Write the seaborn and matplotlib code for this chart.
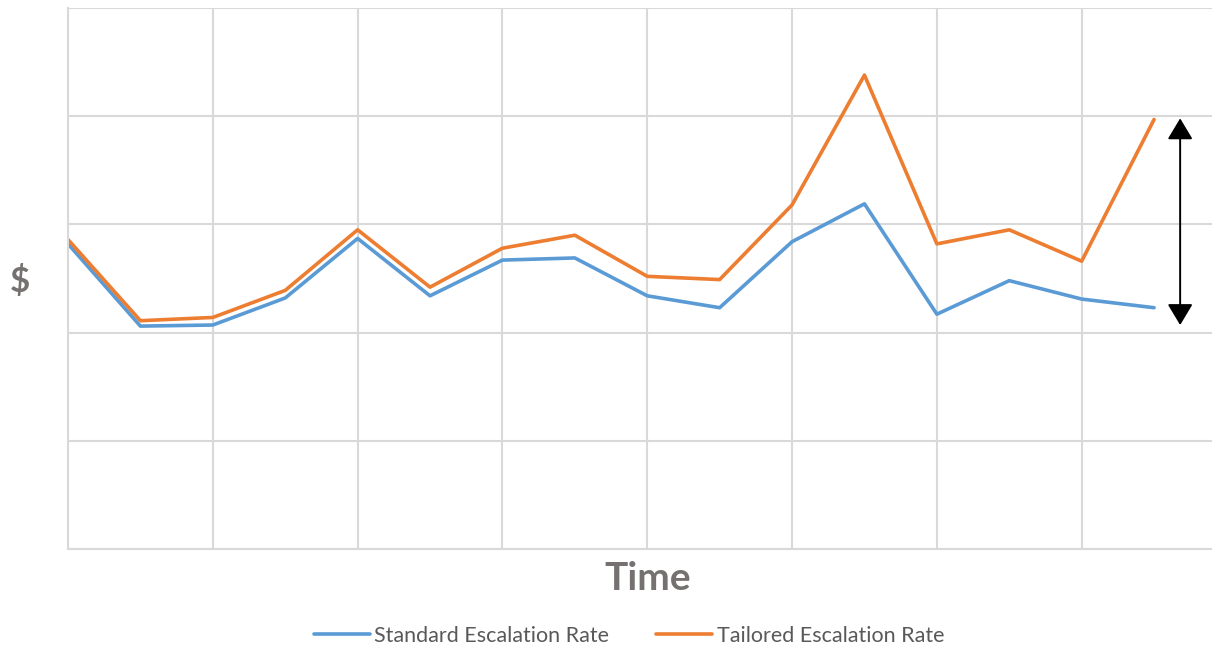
import pandas as pd
import matplotlib
matplotlib.use("Agg")
import matplotlib.pyplot as plt
import seaborn as sns

# values (arbitrary $ units, axis 0..5)
periods = list(range(16))
standard_rate = [2.82, 2.06, 2.07, 2.32, 2.87, 2.34, 2.67, 2.69, 2.34, 2.23,
                 2.84, 3.19, 2.17, 2.48, 2.31, 2.23]
tailored_rate = [2.86, 2.11, 2.14, 2.39, 2.95, 2.42, 2.78, 2.90, 2.52, 2.49,
                 3.18, 4.38, 2.82, 2.95, 2.66, 3.97]
series_names = ["Standard Escalation Rate", "Tailored Escalation Rate"]

df = pd.DataFrame({
    "Time": periods * 2,
    "Value": standard_rate + tailored_rate,
    "Series": [series_names[0]] * 16 + [series_names[1]] * 16,
})

sns.set_style("white")
plt.rcParams["font.family"] = ["Lato", "DejaVu Sans"]

fig = plt.figure(figsize=(12.12, 6.47), dpi=100)
ax = fig.add_axes([68 / 1212, 1 - 549 / 647, 1 - 68 / 1212, (549 - 8) / 647])

sns.lineplot(data=df, x="Time", y="Value", hue="Series",
             palette=["#5B9BD5", "#ED7D31"], linewidth=2.6, ax=ax, legend=True)

ax.set_xlim(0, 15.8)
ax.set_ylim(0, 5)
ax.set_xticks(range(0, 16, 2))
ax.set_yticks(range(0, 6))
ax.grid(True, color="#D9D9D9", linewidth=1.5)
ax.tick_params(length=0, labelleft=False, labelbottom=False)
for side in ["top", "right"]:
    ax.spines[side].set_visible(False)
for side in ["left", "bottom"]:
    ax.spines[side].set_color("#D9D9D9")
    ax.spines[side].set_linewidth(1.5)
ax.set_axisbelow(True)

ax.set_xlabel("")
ax.set_ylabel("")
fig.text(648 / 1212, 1 - 579 / 647, "Time", fontsize=28, fontweight="bold",
         color="#767171", ha="center", va="center")
fig.text(20 / 1212, 1 - 282 / 647, "$", fontsize=25, fontweight="bold",
         color="#767171", ha="center", va="center")

# double-headed arrow showing the gap at the end
ax.annotate("", xy=(15.36, 3.98), xytext=(15.36, 2.07),
            arrowprops=dict(arrowstyle="<|-|>,head_length=0.5,head_width=0.3",
                            color="black", lw=1.4, mutation_scale=26,
                            shrinkA=0, shrinkB=0))

handles, labels = ax.get_legend_handles_labels()
ax.legend_.remove()
fig.legend(handles, labels, loc="center", bbox_to_anchor=(629 / 1212, 1 - 636 / 647),
           ncol=2, frameon=False, fontsize=15.5, handlelength=2.6,
           columnspacing=2.2, handletextpad=0.2, labelcolor="#595959")

fig.savefig("out.png", dpi=100)
